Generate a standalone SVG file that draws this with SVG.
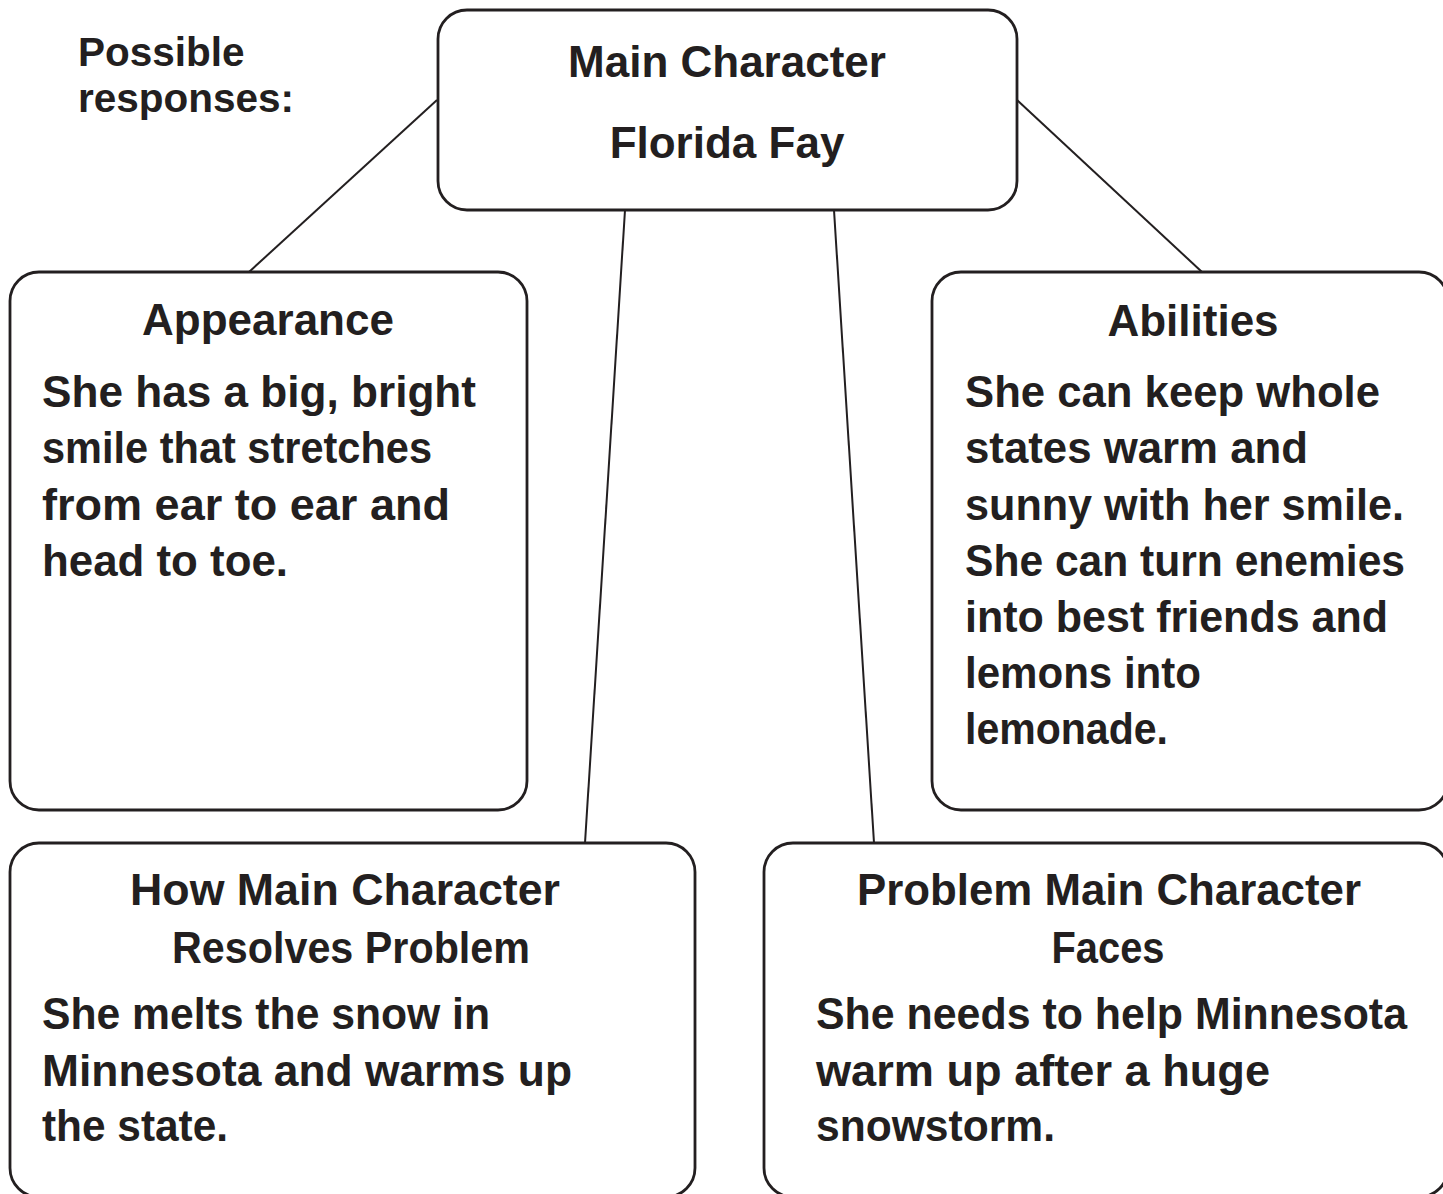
<svg xmlns="http://www.w3.org/2000/svg" width="1443" height="1194" viewBox="0 0 1443 1194">
<style>
.box{fill:#fff;stroke:#231f20;stroke-width:2.8}
.con{stroke:#231f20;stroke-width:2;fill:none}
text{font-family:"Liberation Sans",Arial,sans-serif;font-weight:bold;font-size:44px;fill:#231f20}
.c{text-anchor:middle}
text.n{font-size:40.5px}
</style>
<rect width="1443" height="1194" fill="#fff"/>
<g id="connectors">
<line class="con" x1="437" y1="100" x2="249" y2="272"/>
<line class="con" x1="1017" y1="100" x2="1202" y2="272"/>
<line class="con" x1="625" y1="210" x2="585" y2="843"/>
<line class="con" x1="834" y1="210" x2="874" y2="843"/>
</g>
<g id="note">
<text class="n" x="78" y="66">Possible</text>
<text class="n" x="78" y="112">responses:</text>
</g>
<g id="main">
<rect class="box" x="438" y="10" width="579" height="200" rx="29"/>
<text class="c" x="727" y="77">Main Character</text>
<text class="c" x="727" y="158">Florida Fay</text>
</g>
<g id="appearance">
<rect class="box" x="10" y="272" width="517" height="538" rx="29"/>
<text class="c" x="268" y="335">Appearance</text>
<text x="42" y="407" textLength="434" lengthAdjust="spacingAndGlyphs">She has a big, bright</text>
<text x="42" y="463" textLength="390" lengthAdjust="spacingAndGlyphs">smile that stretches</text>
<text x="42" y="520" textLength="408" lengthAdjust="spacingAndGlyphs">from ear to ear and</text>
<text x="42" y="576" textLength="246" lengthAdjust="spacingAndGlyphs">head to toe.</text>
</g>
<g id="abilities">
<rect class="box" x="932" y="272" width="516" height="538" rx="29"/>
<text class="c" x="1193" y="336">Abilities</text>
<text x="965" y="407" textLength="415" lengthAdjust="spacingAndGlyphs">She can keep whole</text>
<text x="965" y="463" textLength="343" lengthAdjust="spacingAndGlyphs">states warm and</text>
<text x="965" y="520" textLength="439" lengthAdjust="spacingAndGlyphs">sunny with her smile.</text>
<text x="965" y="576" textLength="440" lengthAdjust="spacingAndGlyphs">She can turn enemies</text>
<text x="965" y="632" textLength="423" lengthAdjust="spacingAndGlyphs">into best friends and</text>
<text x="965" y="688" textLength="236" lengthAdjust="spacingAndGlyphs">lemons into</text>
<text x="965" y="744" textLength="203" lengthAdjust="spacingAndGlyphs">lemonade.</text>
</g>
<g id="resolves">
<rect class="box" x="10" y="843" width="685" height="354" rx="29"/>
<text class="c" x="345" y="905" textLength="430" lengthAdjust="spacingAndGlyphs">How Main Character</text>
<text class="c" x="351" y="963" textLength="358" lengthAdjust="spacingAndGlyphs">Resolves Problem</text>
<text x="42" y="1029" textLength="448" lengthAdjust="spacingAndGlyphs">She melts the snow in</text>
<text x="42" y="1086" textLength="530" lengthAdjust="spacingAndGlyphs">Minnesota and warms up</text>
<text x="42" y="1141" textLength="186" lengthAdjust="spacingAndGlyphs">the state.</text>
</g>
<g id="problem">
<rect class="box" x="764" y="843" width="684" height="354" rx="29"/>
<text class="c" x="1109" y="905" textLength="504" lengthAdjust="spacingAndGlyphs">Problem Main Character</text>
<text class="c" x="1108" y="963" textLength="113" lengthAdjust="spacingAndGlyphs">Faces</text>
<text x="816" y="1029" textLength="591" lengthAdjust="spacingAndGlyphs">She needs to help Minnesota</text>
<text x="816" y="1086" textLength="454" lengthAdjust="spacingAndGlyphs">warm up after a huge</text>
<text x="816" y="1141" textLength="239" lengthAdjust="spacingAndGlyphs">snowstorm.</text>
</g>
</svg>
